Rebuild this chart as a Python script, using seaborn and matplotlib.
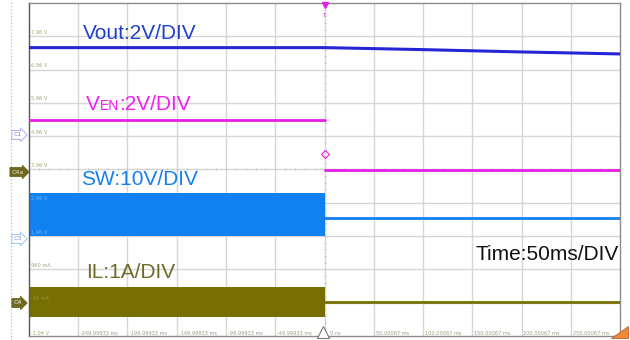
import numpy as np
import pandas as pd
import seaborn as sns
import matplotlib.pyplot as plt
from matplotlib.lines import Line2D
from matplotlib.patches import Polygon

# Time base: 12 divisions of 50 ms, trigger at 0
time_ticks_ms = [-250, -200, -150, -100, -50, 0, 50, 100, 150, 200, 250]
time_tick_labels = ["-249.99933 ms", "-199.99933 ms", "-149.99933 ms", "-99.99933 ms",
                    "-49.99933 ms", "0 ns", "50.00067 ms", "100.00067 ms",
                    "150.00067 ms", "200.00067 ms", "250.00067 ms"]

# Vertical readout labels on the graticule lines (division index, text)
level_divs = [9, 8, 7, 6, 5, 4, 3, 2, 1, 0]
level_labels = ["7.96 V", "6.96 V", "5.96 V", "4.96 V", "3.96 V",
                "2.96 V", "1.96 V", "960 mA", "-40 mA", "-1.04 V"]

# Traces, vertical position in screen divisions (0 = bottom, 10 = top)
vout_t = [-300, -150, 0, 100, 200, 300]
vout_div = [8.66, 8.66, 8.66, 8.60, 8.53, 8.47]

ven_before_t = [-300, 0]
ven_before_div = [6.49, 6.49]
ven_after_t = [1, 300]
ven_after_div = [4.97, 4.97]

sw_band_t = [-300, 0]
sw_band_hi = [4.30, 4.30]
sw_band_lo = [3.00, 3.00]
sw_after_t = [1, 300]
sw_after_div = [3.54, 3.54]

il_band_t = [-300, 0]
il_band_hi = [1.47, 1.47]
il_band_lo = [0.57, 0.57]
il_after_t = [1, 300]
il_after_div = [1.02, 1.02]

trigger_level_div = 5.47

C_VOUT = "#2626d4"
C_VOUT_TXT = "#1f3fcf"
C_VEN = "#e51ee5"
C_VEN_TXT = "#f020f0"
C_SW = "#1181f2"
C_SW_TXT = "#167ff0"
C_IL = "#777000"
C_IL_TXT = "#6f6a28"

sns.set_theme(style="white")
plt.rcParams['font.family'] = ['Liberation Sans', 'DejaVu Sans']

fig = plt.figure(figsize=(6.3, 3.4), dpi=100)
fig.patch.set_facecolor("white")
ax = fig.add_axes([29 / 630, 4 / 340, 591 / 630, 333 / 340])
ax.set_xlim(-300, 300)
ax.set_ylim(0, 10)
ax.set_xticks([])
ax.set_yticks([])
ax.set_xlabel("")
ax.set_ylabel("")

# Graticule
for x in range(-250, 300, 50):
    ax.axvline(x, color="#d6d6d6", lw=1.0, zorder=0)
for y in range(1, 10):
    ax.axhline(y, color="#d6d6d6", lw=1.0, zorder=0)
# faint minor ticks on the centre cross
minor_x = np.arange(-300, 301, 10)
ax.plot(minor_x, np.full(len(minor_x), 5.0), ls="none", marker="|", ms=2.0,
        color="#c4c4c4", mew=0.7, zorder=0.5)
minor_y = np.arange(0, 10.01, 0.2)
ax.plot(np.zeros(len(minor_y)), minor_y, ls="none", marker="_", ms=2.0,
        color="#c4c4c4", mew=0.7, zorder=0.5)

for side, sp in ax.spines.items():
    sp.set_color("#8a8a8a")
    sp.set_linewidth(1.0)
ax.spines["left"].set_color("#555555")

# Switching bands
ax.fill_between(sw_band_t, sw_band_lo, sw_band_hi, color=C_SW, lw=0, zorder=2)
ax.fill_between(il_band_t, il_band_lo, il_band_hi, color=C_IL, lw=0, zorder=2)

# Traces
sns.lineplot(x=vout_t, y=vout_div, ax=ax, color=C_VOUT, lw=2.2, zorder=3)
sns.lineplot(x=ven_before_t, y=ven_before_div, ax=ax, color=C_VEN, lw=2.0, zorder=3)
sns.lineplot(x=ven_after_t, y=ven_after_div, ax=ax, color=C_VEN, lw=2.0, zorder=3)
sns.lineplot(x=sw_after_t, y=sw_after_div, ax=ax, color=C_SW, lw=2.0, zorder=3)
sns.lineplot(x=il_after_t, y=il_after_div, ax=ax, color=C_IL, lw=2.0, zorder=3)
ax.set_xlim(-300, 300)
ax.set_ylim(0, 10)

# Trigger markers
ax.plot([0], [9.93], marker="v", color=C_VEN, ms=5, clip_on=False, zorder=5)
ax.text(0, 9.62, "T", color=C_VEN, fontsize=4, ha="center", va="center", zorder=5)
ax.plot([0], [trigger_level_div], marker="D", ms=4, mfc="none", mec=C_VEN,
        mew=0.8, zorder=5)
ax.plot([-1.5], [0.12], marker="^", ms=8, mfc="white", mec="#777777", mew=0.8,
        zorder=5, clip_on=False)

# Readout labels
for d, lab in zip(level_divs, level_labels):
    col = "#a4a27a"
    if lab in ("2.96 V", "1.96 V"):
        col = "#6fb4ff"
    if lab == "-40 mA":
        col = "#9a9440"
    ypos = d + 0.12 if d > 0 else 0.09
    ax.text(-298, ypos, lab, fontsize=3.6, color=col, ha="left", va="center",
            family="DejaVu Sans", zorder=4)
for t, lab in zip(time_ticks_ms, time_tick_labels):
    off = 6 if t == 0 else 2
    ax.text(t + off, 0.09, lab, fontsize=3.6, color="#9c9a80", ha="left",
            va="center", family="DejaVu Sans", zorder=4)

# Channel annotations
ax.text(-245.7, 8.92, "Vout:2V/DIV", fontsize=15, color=C_VOUT_TXT,
        va="baseline", ha="left", zorder=6)
t1 = ax.text(-242.6, 6.79, "V", fontsize=15, color=C_VEN_TXT,
             va="baseline", ha="left", zorder=6)
t2 = ax.annotate("EN", xy=(1, 0), xycoords=t1, xytext=(0, 1.0),
                 textcoords="offset points", fontsize=10, color=C_VEN_TXT,
                 va="bottom", ha="left", zorder=6)
ax.annotate(":2V/DIV", xy=(1, 0), xycoords=t2, xytext=(0, -1.0),
            textcoords="offset points", fontsize=15, color=C_VEN_TXT,
            va="bottom", ha="left", zorder=6)
ax.text(-246.7, 4.53, "SW:10V/DIV", fontsize=15, color=C_SW_TXT,
        va="baseline", ha="left", zorder=6)
ax.text(-241.6, 1.74, "IL:1A/DIV", fontsize=15, color=C_IL_TXT,
        va="baseline", ha="left", zorder=6)
ax.text(299, 2.28, "Time:50ms/DIV", fontsize=15, color="#111111",
        va="baseline", ha="right", zorder=6)

# Left gutter: dotted rail and channel tags
fig.add_artist(Line2D([11 / 630, 11 / 630], [0.0, 1.0], ls=(0, (1, 2)),
                      color="#9fb4cc", lw=0.8))


def tag(ypx, text, face, edge, tcol):
    fig.text(18 / 630, 1 - ypx / 340, text, fontsize=4.6, color=tcol,
             ha="center", va="center", family="DejaVu Sans",
             bbox=dict(boxstyle="rarrow,pad=0.3", fc=face, ec=edge, lw=0.7))


tag(135, "C1", "white", "#b9a6f0", "#8877cc")
tag(172, "C4a", "#6d6a20", "#6d6a20", "#e8e8c8")
tag(239, "C3", "white", "#9cc4f0", "#6a9ad0")
tag(303, "C4", "#6d6a20", "#6d6a20", "white")

# Corner icon
fig.add_artist(Polygon([[611 / 630, 2 / 340], [628 / 630, 2 / 340],
                        [628 / 630, 14 / 340]], closed=True,
                       fc="#f08a3a", ec="#c0602a", lw=0.6))

fig.savefig("out.png", dpi=100, facecolor="white")
